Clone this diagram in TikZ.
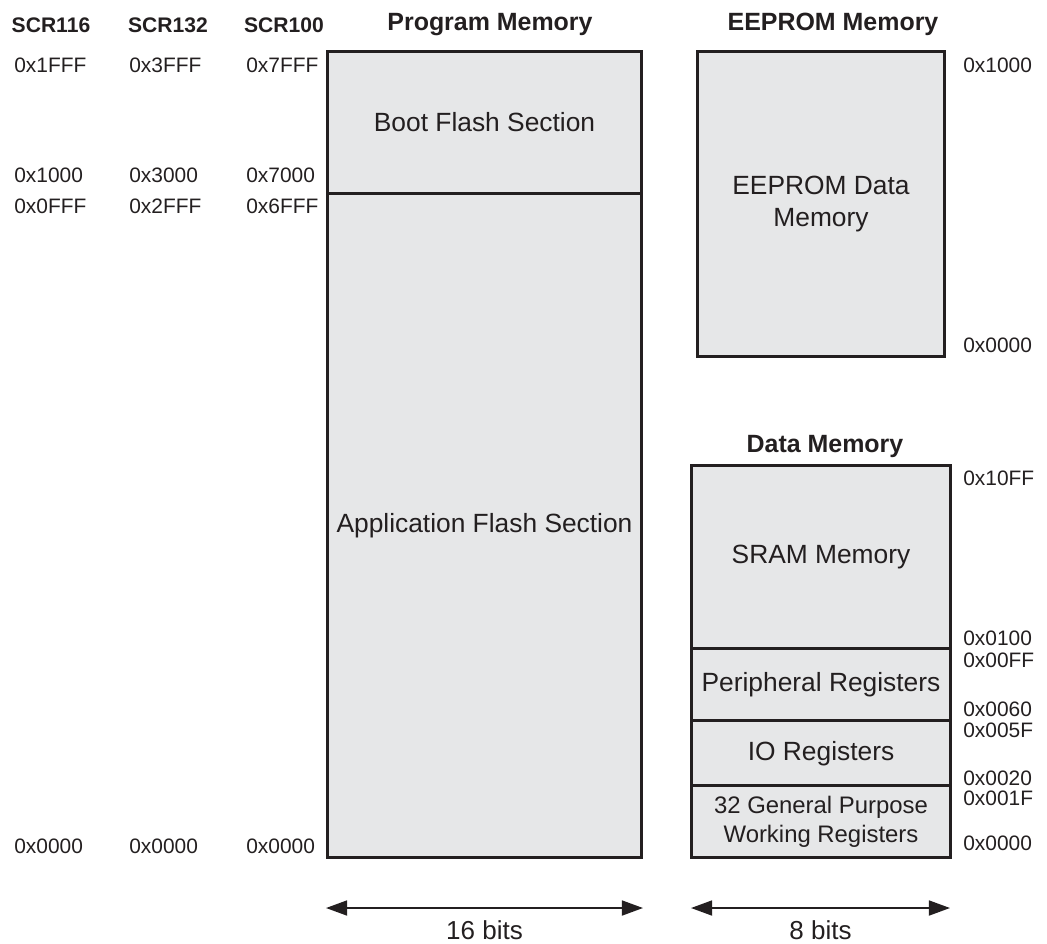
\documentclass[tikz,border=0pt]{standalone}
\usepackage{fontspec}
\setmainfont{Liberation Sans}
\usetikzlibrary{positioning}
\usetikzlibrary{arrows.meta}
\definecolor{ink}{HTML}{231F20}
\definecolor{memgray}{HTML}{E6E7E8}
\tikzset{
    memblock/.style = {rectangle, draw=ink, line width=1.7pt, fill=memgray, text=ink, align=center, inner sep=0pt, outer sep=0pt, font=\fontsize{15}{18.7}\selectfont},
    addr/.style = {anchor=base west, inner sep=0pt, text=ink, font=\fontsize{11.9}{14}\selectfont},
    devname/.style = {anchor=base, inner sep=0pt, text=ink, font=\bfseries\fontsize{12}{14}\selectfont},
    memtitle/.style = {anchor=base, inner sep=0pt, text=ink, font=\bfseries\fontsize{14.2}{16}\selectfont},
    widtharrow/.style = {{Triangle[length=12pt,width=8.5pt]}-{Triangle[length=12pt,width=8.5pt]}, line width=1.1pt, draw=ink},
    bitslabel/.style = {below=6.8pt, inner sep=0pt, text=ink, font=\fontsize{14.8}{17}\selectfont}
}

\begin{document}
\begin{tikzpicture}[x=0.02cm, y=-0.02cm]
\useasboundingbox (0,0) rectangle (1047,943);
% headings
\node[devname] at (51,32) (scr116) {SCR116};
\node[devname] at (168,32) (scr132) {SCR132};
\node[devname] at (284,32) (scr100) {SCR100};
\node[memtitle] at (490,31) (pmtitle) {Program Memory};
\node[memtitle] at (833,31) (eetitle) {EEPROM Memory};
\node[memtitle] at (825,452) (dmtitle) {Data Memory};
%
\node[memblock, minimum width=6.30cm, minimum height=2.86cm] at (484.5,122.5) (boot) {Boot Flash Section};
\node[memblock, minimum width=6.30cm, minimum height=13.28cm, below=0pt of boot] (app) {Application Flash Section};
\node[memblock, minimum width=4.96cm, minimum height=6.12cm] at (821,204) (eeprom) {EEPROM Data\\Memory};
\node[memblock, minimum width=5.2cm, minimum height=3.68cm] at (821,557) (sram) {SRAM Memory};
\node[memblock, minimum width=5.2cm, minimum height=1.44cm, below=0pt of sram] (periph) {Peripheral Registers};
\node[memblock, minimum width=5.2cm, minimum height=1.30cm, below=0pt of periph] (io) {IO Registers};
\node[memblock, minimum width=5.2cm, minimum height=1.44cm, below=0pt of io, font=\fontsize{13.6}{16.4}\selectfont] (gpr) {32 General Purpose\\Working Registers};
% program memory addresses
\node[addr] at (14,72) (a116top) {0x1FFF};
\node[addr] at (14,182) (a116boot) {0x1000};
\node[addr] at (14,213) (a116app) {0x0FFF};
\node[addr] at (14,853) (a116low) {0x0000};
\node[addr] at (129,72) (a132top) {0x3FFF};
\node[addr] at (129,182) (a132boot) {0x3000};
\node[addr] at (129,213) (a132app) {0x2FFF};
\node[addr] at (129,853) (a132low) {0x0000};
\node[addr] at (246,72) (a100top) {0x7FFF};
\node[addr] at (246,182) (a100boot) {0x7000};
\node[addr] at (246,213) (a100app) {0x6FFF};
\node[addr] at (246,853) (a100low) {0x0000};
% eeprom and data addresses
\node[addr] at (963,72) (eetop) {0x1000};
\node[addr] at (963,352) (eelow) {0x0000};
\node[addr] at (963,485) (sramtop) {0x10FF};
\node[addr] at (963,645) (sramlow) {0x0100};
\node[addr] at (963,667) (periphtop) {0x00FF};
\node[addr] at (963,716) (periphlow) {0x0060};
\node[addr] at (963,737) (iotop) {0x005F};
\node[addr] at (963,785) (iolow) {0x0020};
\node[addr] at (963,805) (gprtop) {0x001F};
\node[addr] at (963,850) (gprlow) {0x0000};
% widths
\coordinate (pmleft) at (326,908);
\coordinate (pmright) at (643,908);
\coordinate (dmleft) at (691,908);
\coordinate (dmright) at (950,908);
\draw[widtharrow] (pmleft) -- (pmright) node[midway, bitslabel] (pmbits) {16 bits};
\draw[widtharrow] (dmleft) -- (dmright) node[midway, bitslabel] (dmbits) {8 bits};
\end{tikzpicture}
\end{document}
